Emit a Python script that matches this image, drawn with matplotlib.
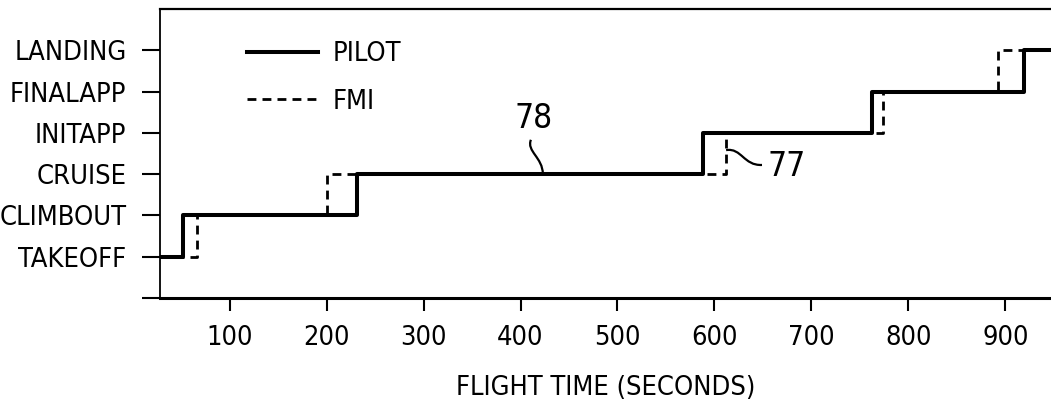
import matplotlib
matplotlib.use('Agg')
import matplotlib.pyplot as plt
from matplotlib.path import Path
from matplotlib.patches import PathPatch

# flight phases, bottom to top
phases = ['TAKEOFF', 'CLIMBOUT', 'CRUISE', 'INITAPP', 'FINALAPP', 'LANDING']

# times (s) where each phase starts, last value is the end of the record
pilot_times = [28, 52, 231, 588, 762, 919, 947]
fmi_times = [28, 66, 200, 612, 774, 892, 947]
phase_levels = [0, 1, 2, 3, 4, 5, 5]

x_ticks = [100, 200, 300, 400, 500, 600, 700, 800, 900]

plt.rcParams['font.family'] = ['DejaVu Sans']
plt.rcParams['font.stretch'] = 'condensed'
plt.rcParams['font.size'] = 19.5


def leader(ax, pts):
    """Draw a thin curved reference-number leader line (cubic bezier)."""
    codes = [Path.MOVETO, Path.CURVE4, Path.CURVE4, Path.CURVE4]
    patch = PathPatch(Path(pts, codes), fill=False, lw=1.6, color='black')
    ax.add_patch(patch)


fig = plt.figure(figsize=(10.51, 4.08), dpi=100)
ax = fig.add_axes([0.152, 0.27, 0.848, 0.708])

# FMI first, pilot on top so the overlapping parts show as solid
ax.step(fmi_times, phase_levels, where='post', color='black', lw=2.0,
        linestyle=(0, (3.2, 2.2)), label='FMI', zorder=2)
ax.step(pilot_times, phase_levels, where='post', color='black', lw=2.9,
        label='PILOT', zorder=3)

ax.set_xlim(28, 947)
ax.set_ylim(-1, 6)

ax.set_yticks([-1] + list(range(len(phases))))
ax.set_yticklabels([''] + phases)
ax.set_xticks(x_ticks)
ax.set_xticklabels([str(t) for t in x_ticks])

ax.tick_params(axis='y', length=13, width=1.5, pad=11)
ax.tick_params(axis='x', length=9.5, width=1.5, pad=10)

ax.spines['right'].set_visible(False)
ax.spines['left'].set_linewidth(1.3)
ax.spines['top'].set_linewidth(1.6)
ax.spines['bottom'].set_linewidth(2.2)

ax.set_xlabel('FLIGHT TIME (SECONDS)', labelpad=17)

# reference numerals
ax.text(413, 3.35, '78', fontsize=24, ha='center', va='center')
leader(ax, [(410.7, 2.83), (406, 2.55), (423, 2.4), (423, 2.0)])
ax.text(655, 2.19, '77', fontsize=24, ha='left', va='center')
leader(ax, [(612, 2.58), (628, 2.64), (630, 2.2), (649, 2.22)])

handles, labels = ax.get_legend_handles_labels()
ax.legend(handles[::-1], labels[::-1], loc='upper left',
          bbox_to_anchor=(0.083, 0.935), frameon=False, borderpad=0,
          handlelength=2.6, handletextpad=0.55, labelspacing=0.8)

fig.savefig('out.png', dpi=100)
